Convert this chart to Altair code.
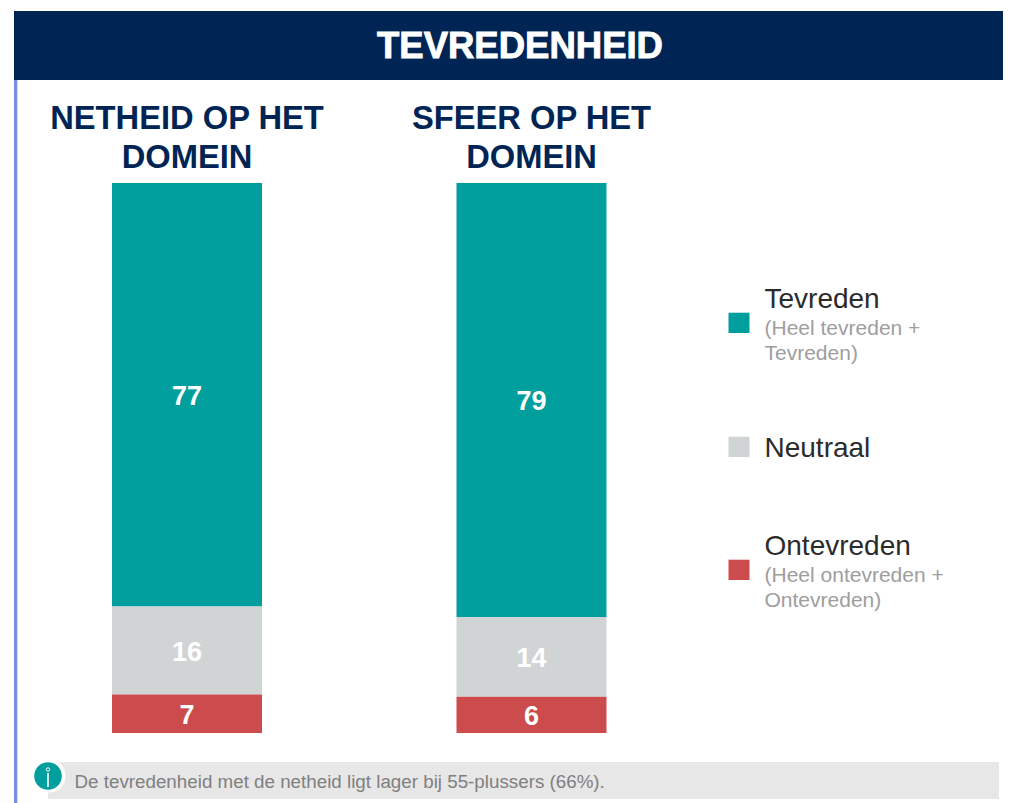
import altair as alt
import pandas as pd

# ---- data ----
domains = ["NETHEID OP HET DOMEIN", "SFEER OP HET DOMEIN"]
title_line1 = ["NETHEID OP HET", "SFEER OP HET"]
title_line2 = ["DOMEIN", "DOMEIN"]
categories = ["Tevreden", "Neutraal", "Ontevreden"]
values_netheid = [77, 16, 7]
values_sfeer = [78.9, 14.5, 6.6]
labels_netheid = ["77", "16", "7"]
labels_sfeer = ["79", "14", "6"]
colors = ["#009E9C", "#D1D4D4", "#CC4B4C"]
heading = "TEVREDENHEID"
footnote = "De tevredenheid met de netheid ligt lager bij 55-plussers (66%)."
legend_sub = ["(Heel tevreden +", "Tevreden)", "(Heel ontevreden +", "Ontevreden)"]

OX, OY = 8, 8
W, H = 995, 795
NAVY = "#002554"


def px(v):
    return alt.value(v - OX)


def py(v):
    return alt.value(v - OY)


one = alt.Data(values=[{}])

rows = []
for d, vals, labs in [(domains[0], values_netheid, labels_netheid), (domains[1], values_sfeer, labels_sfeer)]:
    top = 100.0
    for c, v, l in zip(categories, vals, labs):
        rows.append({"domain": d, "cat": c, "start": top - v, "end": top, "mid": top - v / 2, "label": l})
        top -= v
df = pd.DataFrame(rows)

x_scale = alt.Scale(domain=domains, range=[187 - 172.25 - OX, 531.5 + 172.25 - OX],
                    paddingInner=0.5646, paddingOuter=0.2823)
y_scale = alt.Scale(domain=[0, 100], range=[733 - OY, 183 - OY])
x_enc = alt.X("domain:N", scale=x_scale, axis=None)
color_enc = alt.Color("cat:N", scale=alt.Scale(domain=categories, range=colors), legend=None)

header = alt.Chart(one).mark_rect(color=NAVY).encode(x=px(14), x2=px(1003), y=py(11), y2=py(80))
stripe = alt.Chart(one).mark_rect(color="#7B8FE0").encode(x=px(14), x2=px(17.3), y=py(80), y2=py(803))
heading_t = alt.Chart(one).mark_text(text=heading, font="Liberation Sans", fontWeight="bold", fontSize=36.5,
                                     color="white", align="center", baseline="middle",
                                     stroke="white", strokeWidth=0.9).encode(x=px(520), y=py(46.5))

bars = alt.Chart(df).mark_bar().encode(
    x=x_enc, y=alt.Y("start:Q", scale=y_scale, axis=None), y2="end:Q", color=color_enc)
bar_text = alt.Chart(df).mark_text(font="Liberation Sans", fontWeight="bold", fontSize=27, color="white",
                                   baseline="middle", dy=2).encode(
    x=x_enc, y=alt.Y("mid:Q", scale=y_scale, axis=None), text="label:N")

titles = pd.DataFrame({"domain": domains, "l1": title_line1, "l2": title_line2})
t1 = alt.Chart(titles).mark_text(font="Liberation Sans", fontWeight="bold", fontSize=32.7, color=NAVY,
                                 baseline="middle").encode(x=x_enc, y=py(119), text="l1:N")
t2 = alt.Chart(titles).mark_text(font="Liberation Sans", fontWeight="bold", fontSize=32.7, color=NAVY,
                                 baseline="middle").encode(x=x_enc, y=py(158), text="l2:N")

# legend
squares_y = [312.7, 436.7, 559.7]
layers_legend = []
for c, col, sy in zip(categories, colors, squares_y):
    layers_legend.append(alt.Chart(one).mark_rect(color=col).encode(
        x=px(728.5), x2=px(749.5), y=py(sy), y2=py(sy + 20.3)))
main_y = [300, 449, 547]
for c, my in zip(categories, main_y):
    layers_legend.append(alt.Chart(one).mark_text(text=c, font="Liberation Sans", fontSize=28, color="#2b2b2b",
                                                  align="left", baseline="middle").encode(x=px(764.5), y=py(my)))
sub_y = [329, 354, 576, 601]
for s, sy in zip(legend_sub, sub_y):
    layers_legend.append(alt.Chart(one).mark_text(text=s, font="Liberation Sans", fontSize=21, color="#9e9e9e",
                                                  align="left", baseline="middle").encode(x=px(764.5), y=py(sy)))

# footnote
band = alt.Chart(one).mark_rect(color="#E7E7E7").encode(x=px(48), x2=px(999), y=py(762), y2=py(799))
halo = alt.Chart(one).mark_point(filled=True, color="white", size=1100, opacity=1).encode(x=px(49), y=py(776))
disc = alt.Chart(one).mark_point(filled=True, color="#009E9C", size=760, opacity=1).encode(x=px(48), y=py(776))
i_dot = alt.Chart(one).mark_point(filled=False, color="white", size=12, opacity=1, strokeWidth=1).encode(x=px(48), y=py(769.5))
i_bar = alt.Chart(one).mark_rule(color="white", strokeWidth=1.6).encode(x=px(48), y=py(773), y2=py(787))
foot = alt.Chart(one).mark_text(text=footnote, font="Liberation Sans", fontSize=18.8, color="#808080",
                                align="left", baseline="middle").encode(x=px(74.5), y=py(782))

chart = alt.layer(header, stripe, heading_t, bars, bar_text, t1, t2, *layers_legend,
                  band, halo, disc, i_dot, i_bar, foot).properties(
    width=W, height=H, padding=0, autosize=alt.AutoSizeParams(type="none"), background="white"
).configure_view(strokeWidth=0)

chart.save("out.html", embed_options={"renderer": "svg", "actions": False})
